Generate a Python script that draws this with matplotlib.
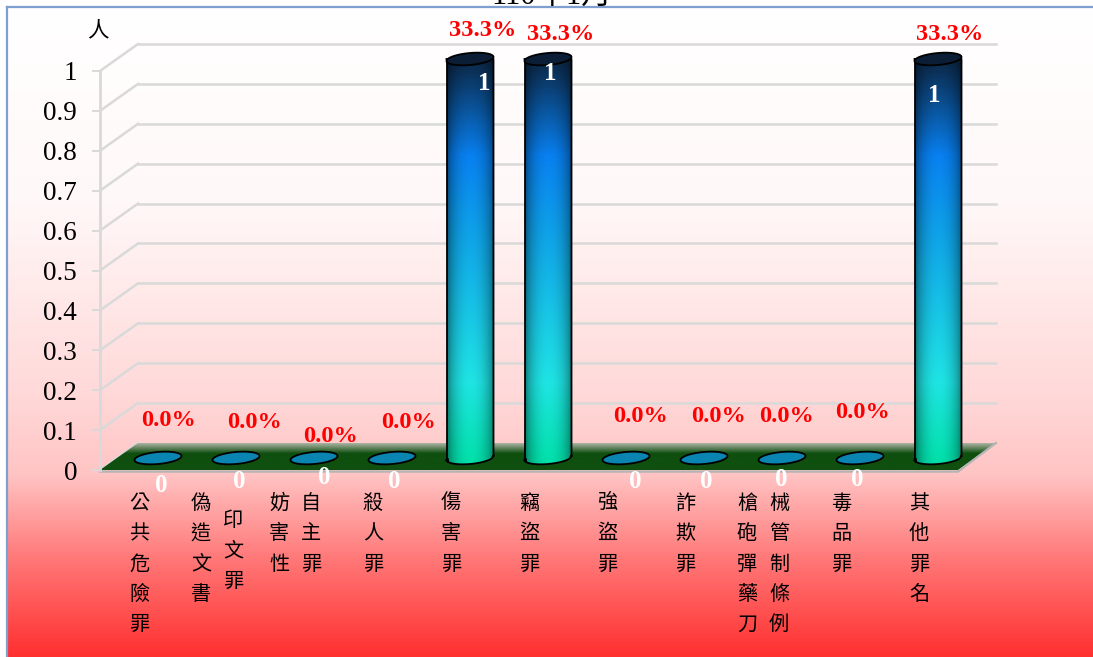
import numpy as np
import matplotlib
matplotlib.use('Agg')
import matplotlib.pyplot as plt
from matplotlib.colors import LinearSegmentedColormap
from matplotlib.patches import Polygon

serif = 'Liberation Serif'
cjk = 'Noto Sans CJK TC'

# "|" splits a label that wraps into two columns
categories = ['公共危險罪', '偽造文書|印文罪', '妨害性|自主罪', '殺人罪', '傷害罪', '竊盜罪',
              '強盜罪', '詐欺罪', '槍砲彈藥刀|械管制條例', '毒品罪', '其他罪名']
values = [0, 0, 0, 0, 1, 1, 0, 0, 0, 0, 1]
shares = [0, 0, 0, 0, 33.3, 33.3, 0, 0, 0, 0, 33.3]
y_ticks = [0, 0.1, 0.2, 0.3, 0.4, 0.5, 0.6, 0.7, 0.8, 0.9, 1]
y_labels = ['0', '0.1', '0.2', '0.3', '0.4', '0.5', '0.6', '0.7', '0.8', '0.9', '1']

# label placement relative to the front of each category, in pixels
share_dx = [29, 37, 36, 35, 32, 32, 33, 33, 23, 22, 31]
share_dy = [49, 47, 34, 47, 40, 37, 54, 54, 54, 57, 37]
count_dx = [22, 22, 29, 21, 33, 21, 28, 21, 18, 16, 15]
count_dy = [-15, -11, -8, -11, -12, -2, -11, -12, -10, -10, -25]

W, H = 1093, 657
fig = plt.figure(figsize=(W / 100, H / 100), dpi=100, facecolor='white')

# page background
bg = fig.add_axes([0, 0, 1, 1], zorder=0)
bg.axis('off')
page = LinearSegmentedColormap.from_list('page', [
    (0, '#ffffff'), (0.3, '#fff8f8'), (0.6, '#ffd8d8'), (0.72, '#ffc4c4'),
    (0.85, '#ff7878'), (1, '#ff3030')])
bg.imshow(np.linspace(0, 1, 256)[:, None], cmap=page, extent=(7, W, H, 7), aspect='auto')
bg.set_xlim(0, W)
bg.set_ylim(H, 0)
bg.plot([7, W], [7, 7], color='#7f9fd0', lw=1.6)
bg.plot([7, 7], [7, H], color='#7f9fd0', lw=1.6)
bg.text(552, 4, '110年1月', family=[serif, cjk], fontsize=22, ha='center', va='baseline', color='black')
bg.text(98, 30, '人', family=cjk, fontsize=15.5, ha='center', va='center', color='black')

# chart front plane
ax = fig.add_axes([100 / W, 1 - 470 / H, 858 / W, 399 / H], zorder=1)
ax.patch.set_visible(False)
n = len(categories)
px_x = 78.0
px_y = 399.0
depth_x = 38 / px_x
depth_y = 27 / px_y
mid_x = 19 / px_x
mid_y = 12 / px_y
bar_w = 47 / px_x

for s in ['top', 'right', 'bottom']:
    ax.spines[s].set_visible(False)
ax.spines['left'].set_color('#d9d9d9')
ax.spines['left'].set_linewidth(2)
ax.set_xticks([])
ax.set_yticks(y_ticks)
ax.set_yticklabels(y_labels, family=serif, fontsize=19.5)
ax.tick_params(axis='y', length=5.5, width=1.4, color='#d9d9d9', pad=11)

left = -0.5
right = n - 0.5

# wall grid lines
for v in y_ticks:
    if v > 0:
        ax.plot([left + depth_x, right + depth_x], [v + depth_y, v + depth_y],
                color='#d9d9d9', lw=1.8, clip_on=False, zorder=1)
    ax.plot([left, left + depth_x], [v, v + depth_y], color='#d9d9d9', lw=1.8,
            clip_on=False, zorder=1)

# floor
floor_cmap = LinearSegmentedColormap.from_list('floor', [
    (0, '#0f4f0f'), (0.62, '#0f4f0f'), (1, '#aab2a2')])
floor = ax.imshow(np.linspace(0, 1, 64)[:, None], cmap=floor_cmap, origin='lower', aspect='auto',
                  extent=(left, right + depth_x, 0, depth_y), zorder=2)
floor.set_clip_box(fig.bbox)
floor.set_clip_path(Polygon([(left, 0), (right, 0), (right + depth_x, depth_y), (left + depth_x, depth_y)],
                            transform=ax.transData))
ax.plot([left, right, right + depth_x], [-0.004, -0.004, depth_y], color='#b4b4b4', lw=1.6,
        clip_on=False, zorder=2)


def ellipse(cx, cy, a=bar_w / 2, b=6 / px_y, tilt=2.0 / px_y):
    t = np.linspace(0, 2 * np.pi, 80)
    return np.column_stack([cx + a * np.cos(t), cy + b * np.sin(t) + tilt * np.cos(t)])


stops = [(0, '#00e0a8'), (0.2, '#1fe4e4'), (0.55, '#0fa4e8'), (0.75, '#0880f0'), (1, '#0c2038')]
bar_cmap = LinearSegmentedColormap.from_list('bar', stops)
shade_x = np.linspace(0, 1, 60)
shade = 0.45 + 0.55 * np.sin(np.pi * shade_x) ** 0.5

for i, v in enumerate(values):
    cx = i + mid_x
    if v == 0:
        ax.add_patch(Polygon(ellipse(cx, mid_y), closed=True, fc='#0a84b0', ec='black', lw=1.3,
                             clip_on=False, zorder=3))
        continue
    col = bar_cmap(np.linspace(0, 1, 200))[:, :3]
    rgb = col[:, None, :] * shade[None, :, None]
    im = ax.imshow(rgb, origin='lower', aspect='auto', zorder=3,
                   extent=(cx - bar_w / 2, cx + bar_w / 2, mid_y - 8 / px_y, mid_y + v + 8 / px_y))
    low = ellipse(cx, mid_y)
    low = low[(low[:, 1] <= mid_y + 1e-9) | (np.abs(low[:, 0] - cx) > bar_w / 2 - 1e-3)]
    low = low[np.argsort(low[:, 0])]
    outline = np.vstack([low, [[cx + bar_w / 2, mid_y + v], [cx - bar_w / 2, mid_y + v]]])
    im.set_clip_box(fig.bbox)
    im.set_clip_path(Polygon(outline, transform=ax.transData))
    ax.plot(outline[:, 0], outline[:, 1], color='black', lw=1.3, clip_on=False, zorder=3)
    ax.plot([outline[0, 0]] * 2, [outline[0, 1], mid_y + v], color='black', lw=1.3, clip_on=False, zorder=3)
    ax.add_patch(Polygon(ellipse(cx, mid_y + v), closed=True, fc='#0b1e36', ec='black', lw=1.3,
                         clip_on=False, zorder=4))

ax.set_xlim(left, right)
ax.set_ylim(0, 1)

# value labels
for i, v in enumerate(values):
    ax.annotate(f'{shares[i]:.1f}%', (i, v), xytext=(share_dx[i], share_dy[i]), textcoords='offset pixels',
                family=serif, fontsize=17.6, fontweight='bold', color='red', ha='center', va='center',
                annotation_clip=False, zorder=6)
    ax.annotate(str(v), (i, v), xytext=(count_dx[i], count_dy[i]), textcoords='offset pixels',
                family=serif, fontsize=18, fontweight='bold', color='white', ha='center', va='center',
                annotation_clip=False, zorder=6)

# vertical category labels, one or two columns
for i, name in enumerate(categories):
    cols = name.split('|')
    offs = [-16, 16] if len(cols) == 2 else [0]
    for c, off in zip(cols, offs):
        drop = 17 if c == '印文罪' else 0
        ax.annotate('\n'.join(c), (i, 0), xytext=(off, -23 - drop), textcoords='offset pixels',
                    family=cjk, fontsize=14.5, color='black', ha='center', va='top', linespacing=1.58,
                    annotation_clip=False, zorder=6)

fig.savefig('out.png', dpi=100)
